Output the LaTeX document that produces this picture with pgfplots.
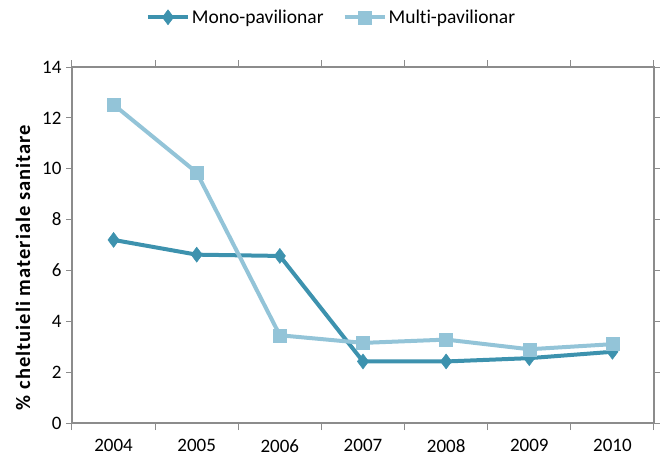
\documentclass[border=0pt]{standalone}
\usepackage{fontspec}
\setmainfont{Carlito}[Ligatures=NoCommon]
\usepackage{pgfplots}
\pgfplotsset{compat=1.18}

\definecolor{mono}{HTML}{3D92AE}
\definecolor{multi}{HTML}{93C4D8}
\definecolor{axgray}{HTML}{8C8C8C}

\begin{document}
\begin{tikzpicture}[x=1pt,y=1pt]
\begin{axis}[
    scale only axis,
    width=582pt, height=356pt,
    at={(0,0)}, anchor=south west,
    xmin=2003.5, xmax=2010.5,
    ymin=0, ymax=14,
    ytick={0,2,...,14},
    xtick=data,
    minor xtick={2003.5,2004.5,...,2010.5},
    major x tick style={draw=none},
    tick align=outside,
    tick style={axgray, line width=1pt},
    major tick length=6pt,
    minor tick length=7pt,
    axis line style={axgray, line width=1.2pt},
    /pgf/number format/assume math mode=true,
    /pgf/number format/1000 sep={},
    tick label style={font=\fontsize{19}{22}\selectfont, black},
    xticklabel style={yshift=-7pt},
    yticklabel style={xshift=-1pt},
    ylabel={\addfontfeature{LetterSpace=5}\bfseries\% cheltuieli materiale sanitare},
    ylabel style={font=\fontsize{20.5}{24}\selectfont,
        at={(ticklabel cs:0.437)}, yshift=5pt},
    legend columns=2,
    legend style={at={(0.446,1)}, anchor=south, yshift=38pt, draw=none,
        font=\fontsize{19.5}{23}\selectfont,
        nodes={inner xsep=2pt},
        /tikz/every even column/.append style={column sep=17pt}},
    legend image code/.code={
        \draw[#1, mark=none] (0pt,0pt) -- (40pt,0pt);
        \draw[#1, only marks] plot coordinates {(20pt,0pt)};
    },
]
\addplot[mono, line width=4pt, mark=diamond*, mark size=7.5pt,
    mark options={solid, line width=0.5pt, fill=mono}]
    coordinates {(2004,7.2)(2005,6.62)(2006,6.57)(2007,2.42)(2008,2.42)(2009,2.55)(2010,2.8)};
\addlegendentry{Mono-pavilionar}
\addplot[multi, line width=4pt, mark=square*, mark size=6.5pt,
    mark options={solid, line width=0.5pt, fill=multi}]
    coordinates {(2004,12.52)(2005,9.85)(2006,3.45)(2007,3.15)(2008,3.28)(2009,2.9)(2010,3.1)};
\addlegendentry{Multi-pavilionar}
\end{axis}
\pgfresetboundingbox
\useasboundingbox (-72,-49) rectangle (595,423);
\end{tikzpicture}
\end{document}
